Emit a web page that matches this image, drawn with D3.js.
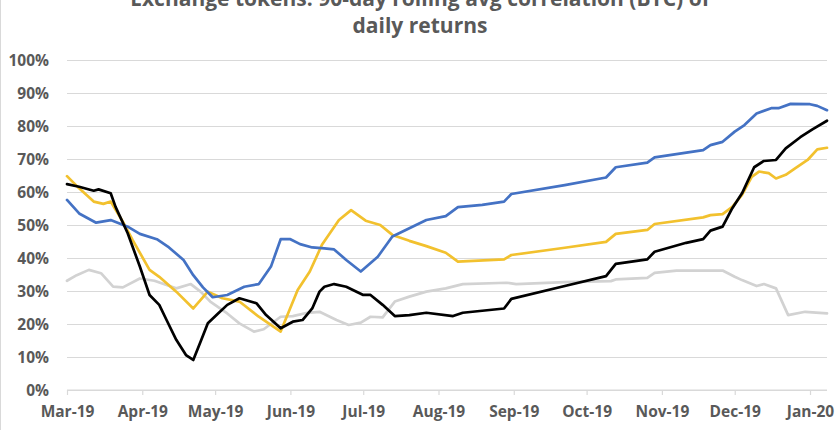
<!DOCTYPE html>
<html>
<head>
<meta charset="utf-8">
<script src="https://cdn.jsdelivr.net/npm/d3@7"></script>
<style>
  html, body { margin: 0; padding: 0; background: #fff; }
  svg { display: block; }
</style>
</head>
<body>
<svg id="chart" width="840" height="430"></svg>
<script>
// ---- Data (day offsets from 1 Mar 2019, values in %) ----
const titleLines = ["Exchange tokens: 90-day rolling avg correlation (BTC) of", "daily returns"];
const yTicks = [0, 10, 20, 30, 40, 50, 60, 70, 80, 90, 100];
const monthTicks = ["2019-03-01","2019-04-01","2019-05-01","2019-06-01","2019-07-01","2019-08-01","2019-09-01","2019-10-01","2019-11-01","2019-12-01","2020-01-01"];

const blueDays = [0,5,12,18,25,30,37,42,48,52,56,60,66,73,79,84,88,92,96,101,106,110,115,121,128,134,141,148,156,161,171,180,183,205,222,226,239,242,262,265,270,275,279,284,290,293,298,306,309,313];
const blueVals = [57.6,53.5,50.7,51.5,49.5,47.3,45.7,43.2,39.4,34.8,31.1,28.1,28.8,31.3,32.1,37.4,45.7,45.7,44.2,43.2,42.9,42.6,39.4,35.9,40.4,46.5,49.0,51.5,52.7,55.4,56.1,57.1,59.4,62.1,64.4,67.5,68.9,70.5,72.7,74.2,75.2,78.3,80.3,83.8,85.4,85.4,86.7,86.6,86.1,84.8];

const yellowDays = [0,5,11,15,18,23,27,34,38,45,52,58,64,71,79,88,95,100,105,112,117,123,129,134,141,148,156,161,180,183,205,222,226,239,242,262,265,270,274,278,282,285,289,292,296,300,305,309,313];
const yellowVals = [64.8,61.1,57.1,56.4,57.1,51.0,45.5,36.4,34.3,29.8,24.7,29.8,27.8,26.8,22.2,17.7,30.3,35.9,44.0,51.5,54.5,51.3,50.0,47.0,45.2,43.6,41.6,38.9,39.6,40.9,43.1,44.9,47.3,48.5,50.3,52.3,53.0,53.3,55.5,59.1,64.6,66.2,65.7,64.1,65.2,67.2,69.7,72.9,73.4];

const blackDays = [0,5,11,13,18,20,25,30,34,38,41,45,49,52,55,58,62,66,71,78,82,88,93,97,101,104,106,110,115,122,125,130,135,141,148,159,163,180,183,205,222,226,239,242,255,262,265,270,274,278,283,287,292,296,302,307,313];
const blackVals = [62.4,61.6,60.4,60.8,59.6,55.5,47.5,37.4,28.8,25.8,21.2,15.2,10.6,9.1,14.6,20.2,23.0,25.8,27.8,26.3,22.7,18.7,20.7,21.2,24.7,29.8,31.3,32.1,31.3,28.8,28.8,25.8,22.4,22.7,23.4,22.4,23.4,24.7,27.6,31.5,34.5,38.2,39.6,41.9,44.6,45.7,48.3,49.5,55.1,59.6,67.5,69.4,69.7,73.2,76.6,79.0,81.6];

const greyDays = [0,4,9,14,19,23,30,36,41,45,51,55,59,66,71,77,81,88,93,99,104,111,116,121,125,130,135,141,148,156,163,181,185,205,224,226,239,242,251,270,275,278,284,287,292,297,304,313];
const greyVals = [33.1,34.8,36.4,35.4,31.3,31.1,33.8,33.1,31.8,30.8,32.1,29.8,26.8,23.2,20.2,17.7,18.4,22.2,22.4,23.4,23.7,21.2,19.7,20.4,22.2,22.0,26.8,28.3,29.8,30.8,32.1,32.5,32.1,32.7,33.0,33.5,34.0,35.5,36.2,36.2,34.3,33.3,31.5,32.1,30.8,22.7,23.7,23.2];

const seriesList = [
  { name: "grey",   days: greyDays,   vals: greyVals,   color: "#d2d2d2" },
  { name: "yellow", days: yellowDays, vals: yellowVals, color: "#f2c12e" },
  { name: "blue",   days: blueDays,   vals: blueVals,   color: "#4472c4" },
  { name: "black",  days: blackDays,  vals: blackVals,  color: "#000000" }
];

// ---- Layout ----
const svg = d3.select("#chart");
const W = 840, H = 430;
const margin = { left: 67, right: 13, top: 60, bottom: 40 };
const start = new Date(2019, 2, 1);
const end = d3.timeDay.offset(start, 313);
const parse = d3.timeParse("%Y-%m-%d");

const x = d3.scaleTime().domain([start, end]).range([margin.left, W - margin.right]);
const y = d3.scaleLinear().domain([0, 100]).range([H - margin.bottom, margin.top]);

const textColor = "#595959";
const font = "'Open Sans', 'Liberation Sans', sans-serif";

// border on left
svg.append("line").attr("x1", 0.5).attr("x2", 0.5).attr("y1", 0).attr("y2", H)
  .attr("stroke", "#d9d9d9").attr("stroke-width", 1);

// Title (first line is clipped by the top edge, as in the reference)
svg.append("g").selectAll("text").data(titleLines).join("text")
  .attr("x", 420)
  .attr("y", (d, i) => 6 + i * 27)
  .attr("text-anchor", "middle")
  .attr("font-family", font)
  .attr("font-weight", "bold")
  .attr("font-size", 21)
  .attr("fill", textColor)
  .text(d => d);

// Gridlines + y axis
const yAxis = d3.axisLeft(y)
  .tickValues(yTicks)
  .tickSize(-(W - margin.left - margin.right))
  .tickPadding(18)
  .tickFormat(d => d + "%");
const gy = svg.append("g").attr("transform", `translate(${margin.left},0)`).call(yAxis);
gy.select(".domain").remove();
gy.selectAll(".tick line").attr("stroke", "#d9d9d9").attr("stroke-width", 1.2);
gy.selectAll(".tick text")
  .attr("font-family", font).attr("font-weight", "bold").attr("font-size", 15.5)
  .attr("fill", textColor).attr("dy", "0.35em");

// x axis
const xAxis = d3.axisBottom(x)
  .tickValues(monthTicks.map(parse))
  .tickSize(5)
  .tickPadding(11)
  .tickFormat(d3.timeFormat("%b-%y"));
const gx = svg.append("g").attr("transform", `translate(0,${y(0)})`).call(xAxis);
gx.select(".domain").attr("stroke", "#d9d9d9").attr("stroke-width", 1.2)
  .attr("d", `M${x(start)},0H${x(end)}`);
gx.selectAll(".tick line").attr("stroke", "#d9d9d9").attr("stroke-width", 1.2);
gx.selectAll(".tick text")
  .attr("font-family", font).attr("font-weight", "bold").attr("font-size", 15.5)
  .attr("fill", textColor);

// Lines
const line = d3.line()
  .x(d => x(d3.timeDay.offset(start, d[0])))
  .y(d => y(d[1]))
  .curve(d3.curveLinear);

svg.append("g").selectAll("path").data(seriesList).join("path")
  .attr("fill", "none")
  .attr("stroke", d => d.color)
  .attr("stroke-width", 2.7)
  .attr("stroke-linejoin", "round")
  .attr("stroke-linecap", "round")
  .attr("d", d => line(d.days.map((dd, i) => [dd, d.vals[i]])));
</script>
</body>
</html>
